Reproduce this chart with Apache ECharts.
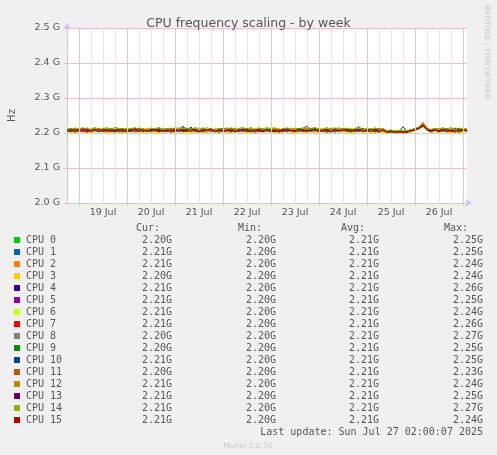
<!DOCTYPE html>
<html>
<head>
<meta charset="utf-8">
<script src="https://cdn.jsdelivr.net/npm/echarts@6/dist/echarts.min.js"></script>
<style>
  html, body { margin: 0; padding: 0; background: #f0f0f0; }
  #main { width: 497px; height: 455px; }
</style>
</head>
<body>
<div id="main"></div>
<script>
// legend table
const cpuNames = ['CPU 0','CPU 1','CPU 2','CPU 3','CPU 4','CPU 5','CPU 6','CPU 7',
                  'CPU 8','CPU 9','CPU 10','CPU 11','CPU 12','CPU 13','CPU 14','CPU 15'];
const cpuColors = ['#00cc00','#0066b3','#ff8000','#ffcc00','#330099','#990099','#ccff00','#ff0000',
                   '#808080','#008f00','#00487d','#b35a00','#b38f00','#6b006b','#8fb300','#b30000'];
const curVals = ['2.20G','2.21G','2.21G','2.20G','2.21G','2.21G','2.21G','2.21G',
                 '2.20G','2.20G','2.21G','2.20G','2.21G','2.21G','2.21G','2.21G'];
const minVals = ['2.20G','2.20G','2.20G','2.20G','2.20G','2.20G','2.20G','2.20G',
                 '2.20G','2.20G','2.20G','2.20G','2.20G','2.20G','2.20G','2.20G'];
const avgVals = ['2.21G','2.21G','2.21G','2.21G','2.21G','2.21G','2.21G','2.21G',
                 '2.21G','2.21G','2.21G','2.21G','2.21G','2.21G','2.21G','2.21G'];
const maxVals = ['2.25G','2.25G','2.24G','2.24G','2.26G','2.25G','2.24G','2.26G',
                 '2.27G','2.25G','2.25G','2.23G','2.24G','2.25G','2.27G','2.24G'];

// x axis: hours since 19 Jul 00:00, labels at noon
const dayLabels = ['19 Jul','20 Jul','21 Jul','22 Jul','23 Jul','24 Jul','25 Jul','26 Jul'];
const dayStarts = [0, 24, 48, 72, 96, 120, 144, 168, 192];
const dayNoons = [12, 36, 60, 84, 108, 132, 156, 180];
const sixHourMarks = [6, 12, 18, 30, 36, 42, 54, 60, 66, 78, 84, 90, 102, 108, 114,
                      126, 132, 138, 150, 156, 162, 174, 180, 186];
const yTickLabels = ['2.0 G','2.1 G','2.2 G','2.3 G','2.4 G','2.5 G'];

// samples every 2 h starting 18 Jul 18:00, in MHz above 2200 MHz
const sampleStart = -6;
const sampleStep = 2;
const cpu0  = [5,13,7,12,4,11,8,14,6,10, 12,5,10,7,13,6,11,4,12,8, 6,12,9,5,13,7,10,4,11,8, 13,6,10,5,12,8,4,11,7,13,
               6,10,4,12,8,13,5,9,11,6, 12,7,10,4,13,6,9,12,5,10, 7,13,5,11,8,4,12,6,10,13, 5,9,12,19,6,11,4,10,7,12,
               3,7,2,5,4,8,6,11,15,21, 11,5,12,7,10,4,13,6,9,11, 7];
const cpu1  = [4,10,6,12,3,9,7,11,5,8, 11,4,9,6,12,5,10,3,8,11, 5,11,7,4,10,8,12,5,9,3, 10,6,12,4,8,11,5,9,3,12,
               6,9,4,11,7,12,5,8,10,4, 9,5,12,7,3,10,6,11,4,9, 12,4,8,6,11,5,9,12,3,7, 10,5,8,12,4,9,6,11,5,8,
               2,5,3,6,2,7,8,12,13,20, 10,4,9,6,12,5,8,3,10,6, 9];
const cpu2  = [8,4,11,6,13,5,9,12,4,10, 6,12,3,9,11,5,13,7,4,10, 12,6,9,4,11,8,5,13,7,10, 4,9,12,6,10,3,11,7,13,5,
               10,5,8,12,4,11,7,9,3,12, 6,11,4,10,8,13,5,9,12,4, 9,7,12,5,10,4,11,8,6,13, 5,10,7,11,4,12,9,6,10,8,
               4,2,6,3,5,4,7,11,15,22, 12,6,10,4,9,13,5,11,7,9, 5];
const cpu3  = [2,4,1,5,3,0,4,2,6,3, 1,4,2,5,0,3,6,2,4,1, 5,2,3,0,4,6,1,3,5,2, 3,0,5,2,4,1,6,3,2,5,
               1,4,2,6,3,0,5,2,4,3, 5,2,4,1,3,6,2,0,4,3, 2,5,0,3,4,1,5,3,6,2, 4,1,3,5,2,4,0,3,5,1,
               0,2,0,1,0,2,3,7,12,19, 7,2,4,1,5,3,0,4,2,5, 3];
const cpu4  = [6,11,4,9,12,5,10,7,13,4, 9,12,5,10,3,11,8,13,6,10, 4,12,7,10,5,13,8,4,11,19, 9,5,12,7,3,11,6,10,13,5,
               11,4,9,6,12,5,10,3,8,12, 5,10,7,13,4,9,11,6,10,4, 12,6,9,4,11,7,13,5,8,10, 4,11,7,9,12,5,10,6,13,7,
               5,3,6,2,5,4,8,10,14,21, 9,5,12,7,10,4,11,8,6,12, 7];
const cpu5  = [11,5,9,13,4,10,7,12,6,9, 4,12,8,5,11,9,3,10,13,6, 10,4,12,7,9,13,5,8,11,4, 7,11,5,10,4,12,8,6,13,9,
               12,6,9,3,11,7,10,5,13,8, 5,10,12,6,9,4,11,8,5,13, 20,7,10,4,12,6,9,13,5,10, 8,12,5,10,6,11,4,9,12,7,
               4,6,3,5,2,4,7,9,13,21, 10,6,11,5,9,13,4,10,7,11, 6];
const cpu6  = [11,14,8,13,10,16,9,12,15,10, 13,8,15,11,14,9,12,16,8,13, 10,15,9,13,11,8,14,12,16,10, 14,9,12,16,10,13,8,15,11,12,
               9,13,15,10,12,8,14,11,16,9, 12,16,10,14,8,13,11,15,9,12, 15,10,13,9,14,11,16,8,12,14, 10,13,11,15,9,12,14,8,13,11,
               7,5,8,4,7,6,9,12,16,24, 13,9,14,11,15,8,12,16,10,13, 11];
const cpu7  = [5,10,3,8,11,4,9,6,12,5, 9,3,11,7,4,10,6,12,5,8, 11,5,8,3,10,7,12,4,9,6, 4,9,12,6,3,10,5,11,8,4,
               10,6,3,9,12,5,8,11,4,9, 6,11,5,8,3,12,7,10,4,9, 12,4,9,6,10,3,11,7,5,10, 7,3,10,5,12,8,4,9,11,6,
               3,5,2,4,1,3,6,9,15,25, 10,5,8,12,4,9,6,11,3,8, 6];
const cpu8  = [4,8,2,7,10,5,3,9,6,8, 3,7,10,4,8,2,9,6,10,5, 8,3,6,10,4,9,2,7,5,10, 6,9,3,8,5,10,4,7,2,9,
               5,2,9,6,10,3,7,4,8,6, 9,4,7,2,8,10,5,3,9,6, 3,8,5,10,4,7,9,2,6,8, 7,5,9,3,8,4,10,6,2,7,
               2,4,1,3,2,4,5,9,12,20, 9,4,7,3,8,5,10,2,6,8, 5];
const cpu9  = [10,5,12,7,4,11,8,13,6,10, 7,12,5,9,13,4,10,8,12,6, 11,6,9,13,5,10,7,4,12,8, 5,13,8,11,6,9,12,4,10,7,
               12,7,10,5,13,8,4,11,9,6, 8,11,4,10,7,12,6,9,13,5, 10,6,13,8,5,11,9,4,12,7, 13,5,9,16,7,10,4,12,6,10,
               4,2,6,3,5,3,8,10,14,22, 11,7,10,5,12,8,6,13,9,7, 10];
const cpu10 = [8,4,10,6,12,3,9,11,5,8, 11,6,3,10,7,12,5,9,4,10, 6,12,8,4,11,7,9,3,10,5, 9,17,5,11,4,8,12,6,10,3,
               7,11,4,9,12,6,3,10,8,5, 12,5,9,3,8,11,6,10,4,9, 5,10,7,12,4,9,3,11,8,6, 10,4,8,6,11,3,9,12,5,10,
               3,5,2,4,18,4,7,11,14,21, 9,5,11,6,10,3,8,12,4,9, 6];
const cpu11 = [7,3,10,5,9,2,8,11,4,7, 10,4,8,2,9,6,11,3,7,10, 3,9,6,11,4,8,2,10,5,9, 8,5,11,3,7,10,4,9,2,6,
               11,4,7,9,3,10,6,2,8,11, 4,8,2,10,6,3,9,11,5,7, 9,3,11,5,8,2,10,6,4,9, 5,10,3,8,11,4,7,2,9,6,
               2,4,1,3,2,4,6,9,13,19, 8,3,10,5,7,11,4,9,2,7, 8];
const cpu12 = [10,14,7,12,15,8,11,13,6,12, 14,9,16,11,13,7,12,15,9,13, 8,13,11,15,7,12,14,9,11,16, 12,7,14,10,15,9,13,6,12,10,
               15,9,12,7,13,11,16,8,14,10, 8,13,15,10,7,12,14,9,11,15, 11,14,8,13,10,16,7,12,15,9, 13,8,12,15,9,11,7,14,10,13,
               6,8,4,7,5,6,9,13,18,29, 14,9,13,11,15,8,12,10,14,11, 12];
const cpu13 = [9,4,11,7,12,5,10,8,3,11, 6,10,4,12,8,5,11,7,13,4, 10,7,12,5,9,3,11,8,6,12, 5,11,8,4,12,7,10,3,9,13,
               8,5,12,6,10,4,11,9,7,3, 11,7,4,10,6,12,8,5,13,9, 6,12,9,4,11,7,3,10,8,12, 9,5,11,7,13,4,10,6,12,8,
               4,6,3,5,2,4,7,10,14,22, 10,6,12,4,9,11,5,8,13,7, 9];
const cpu14 = [12,9,15,11,8,14,10,16,9,13, 15,11,16,13,9,14,12,8,15,11, 9,14,12,16,10,13,8,15,11,14, 13,10,16,9,12,15,11,8,14,10,
               11,15,9,13,16,10,12,8,14,11, 16,10,13,8,12,15,9,14,11,13, 10,13,16,11,9,14,12,15,8,12, 14,9,12,16,10,13,8,15,11,9,
               7,9,5,8,6,7,10,13,17,31, 15,10,13,9,14,11,16,8,12,14, 10];
const cpu15 = [6,11,4,9,7,12,3,8,10,5, 9,4,10,6,11,3,8,12,5,9, 4,10,7,11,3,9,6,12,5,8, 11,5,8,3,10,7,12,4,9,6,
               7,12,4,9,6,11,3,8,10,5, 10,3,9,6,12,5,8,4,11,7, 5,9,12,4,8,10,3,11,6,9, 8,11,5,10,4,9,12,6,3,10,
               3,5,2,4,3,2,6,9,14,24, 10,4,9,6,11,5,8,3,10,7, 8];
const cpuData = [cpu0,cpu1,cpu2,cpu3,cpu4,cpu5,cpu6,cpu7,cpu8,cpu9,cpu10,cpu11,cpu12,cpu13,cpu14,cpu15];

// dotted grid lines look like these light tints on white
const axisBlue = '#c4c4f4';
const majorGrid = '#f3c0c0';
const minorGrid = '#e4e4e4';

const chart = echarts.init(document.getElementById('main'));

const series = cpuData.map((arr, i) => ({
    name: cpuNames[i],
    type: 'line',
    xAxisIndex: 0,
    showSymbol: false,
    animation: false,
    lineStyle: { width: 1, color: cpuColors[i] },
    itemStyle: { color: cpuColors[i] },
    data: arr.map((v, k) => [sampleStart + k * sampleStep, (2200 + v) * 1e6])
}));
// day boundary grid lines, drawn under the later series
series[0].markLine = {
    silent: true, symbol: ['none', 'none'], animation: false,
    label: { show: false },
    lineStyle: { color: majorGrid, type: 'solid', width: 1 },
    emphasis: { disabled: true },
    data: dayStarts.map(d => ({ xAxis: d }))
};

const mono = '10px "DejaVu Sans Mono"';
const txtColor = '#555';
const graphic = [];
function addText(x, y, text, align, font, color) {
    graphic.push({
        type: 'text', silent: true,
        style: { x: x, y: y, text: text, textAlign: align, textVerticalAlign: 'middle',
                 align: align, verticalAlign: 'middle', font: font, fill: color }
    });
}
addText(160, 228, 'Cur:', 'right', mono, txtColor);
addText(262, 228, 'Min:', 'right', mono, txtColor);
addText(365, 228, 'Avg:', 'right', mono, txtColor);
addText(468, 228, 'Max:', 'right', mono, txtColor);
cpuNames.forEach((name, i) => {
    const y = 240 + i * 12;
    graphic.push({ type: 'rect', silent: true, shape: { x: 14, y: y - 3, width: 6, height: 6 },
                   style: { fill: cpuColors[i] } });
    addText(26, y, name, 'left', mono, txtColor);
    addText(172, y, curVals[i], 'right', mono, txtColor);
    addText(276, y, minVals[i], 'right', mono, txtColor);
    addText(379, y, avgVals[i], 'right', mono, txtColor);
    addText(483, y, maxVals[i], 'right', mono, txtColor);
});
addText(483, 432, 'Last update: Sun Jul 27 02:00:07 2025', 'right', mono, txtColor);
addText(248, 446, 'Munin 2.0.56', 'center', '7.5px "DejaVu Sans"', '#c8c8c8');
graphic.push({
    type: 'text', silent: true, x: 487, y: 5, rotation: -Math.PI / 2,
    style: { x: 0, y: 0, text: 'RRDTOOL / TOBI OETIKER', textAlign: 'left', textVerticalAlign: 'middle',
             align: 'left', verticalAlign: 'middle', font: '7.3px "DejaVu Sans"', fill: '#c8c8c8' }
});

const option = {
    backgroundColor: '#f0f0f0',
    animation: false,
    title: {
        text: 'CPU frequency scaling - by week',
        left: 'center',
        top: 12,
        textStyle: { fontFamily: 'DejaVu Sans', fontSize: 12.5, fontWeight: 'normal', color: '#555' }
    },
    grid: {
        left: 67, right: 30, top: 28, bottom: 252,
        outerBoundsMode: 'none', containLabel: false,
        show: true, backgroundColor: '#ffffff', borderWidth: 0
    },
    xAxis: [
        {
            // 6-hour minor grid (day boundaries left out)
            type: 'value', min: -6, max: 194, interval: 6, position: 'bottom',
            axisLine: { show: true, onZero: false, lineStyle: { color: axisBlue, width: 1 },
                        symbol: ['none', 'arrow'], symbolSize: [6, 7], symbolOffset: [0, 5] },
            axisTick: { show: true, length: 1, customValues: sixHourMarks,
                        lineStyle: { color: minorGrid } },
            axisLabel: { show: false },
            splitLine: { show: true, lineStyle: { color: minorGrid, type: 'solid', width: 1 } }
        },
        {
            // day ticks and noon labels
            type: 'value', min: -6, max: 194, interval: 24, position: 'bottom',
            axisLine: { show: false, onZero: false },
            axisTick: { show: true, length: 3, customValues: dayStarts,
                        lineStyle: { color: majorGrid } },
            axisLabel: {
                customValues: dayNoons, margin: 5,
                color: txtColor, fontFamily: 'DejaVu Sans', fontSize: 9.5,
                formatter: v => dayLabels[Math.round((v - 12) / 24)] || ''
            },
            splitLine: { show: false }
        }
    ],
    yAxis: {
        type: 'value', min: 2.0e9, max: 2.5e9, interval: 1e8,
        name: 'Hz', nameLocation: 'middle', nameGap: 50, nameRotate: 90,
        nameTextStyle: { color: txtColor, fontFamily: 'DejaVu Sans', fontSize: 10 },
        axisLine: { show: true, onZero: false, lineStyle: { color: axisBlue, width: 1 },
                    symbol: ['none', 'arrow'], symbolSize: [6, 7], symbolOffset: [0, 5] },
        axisTick: { show: true, length: 3, lineStyle: { color: majorGrid } },
        axisLabel: {
            margin: 7, color: txtColor, fontFamily: 'DejaVu Sans', fontSize: 9.5,
            formatter: v => yTickLabels[Math.round((v - 2.0e9) / 1e8)]
        },
        splitLine: { show: true, showMinLine: false,
                     lineStyle: { color: majorGrid, type: 'solid', width: 1 } }
    },
    graphic: graphic,
    series: series
};
chart.setOption(option);
</script>
</body>
</html>
